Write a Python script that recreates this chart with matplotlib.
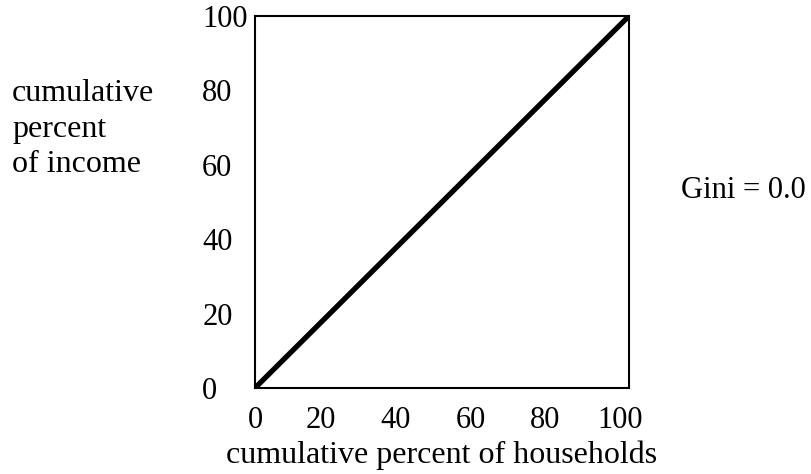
import numpy as np
import matplotlib.pyplot as plt
from matplotlib.transforms import ScaledTranslation

# cumulative share of households vs income (perfect equality)
households = [0, 100]
income = [0, 100]
ticks = [0, 20, 40, 60, 80, 100]
tick_labels = ["0", "20", "40", "60", "80", "100"]
gini = 0.0

plt.rcParams["font.family"] = ["Liberation Serif", "DejaVu Serif"]
FS_TICK = 22
FS_TEXT = 23

W, H = 812, 474
fig = plt.figure(figsize=(W / 100, H / 100), dpi=100)
ax = fig.add_axes([255 / W, (H - 388) / H, 374 / W, 372 / H])

ax.plot(households, income, color="black", lw=3.8, solid_capstyle="butt")
ax.set_xlim(0, 100)
ax.set_ylim(0, 100)
for s in ax.spines.values():
    s.set_linewidth(1.5)

ax.set_xticks(ticks)
ax.set_xticklabels(tick_labels, fontsize=FS_TICK)
ax.set_yticks(ticks)
ax.set_yticklabels(tick_labels, fontsize=FS_TICK, ha="left")
ax.tick_params(axis="x", length=0, pad=13)
ax.tick_params(axis="y", length=0, pad=38)

# labels in the original sit slightly left of their ticks
for lab in ax.get_xticklabels()[1:]:
    lab.set_transform(lab.get_transform() + ScaledTranslation(-9 / 100, 0, fig.dpi_scale_trans))

ax.set_xlabel("cumulative percent of households", fontsize=FS_TEXT, labelpad=4)

fig.text(12 / W, 1 - 129 / H, "cumulative\npercent\nof income", fontsize=FS_TEXT,
         ha="left", va="center", linespacing=1.3)
fig.text(681 / W, 1 - 190 / H, f"Gini = {gini:.1f}", fontsize=22, ha="left", va="center")

fig.savefig("out.png", dpi=100)
